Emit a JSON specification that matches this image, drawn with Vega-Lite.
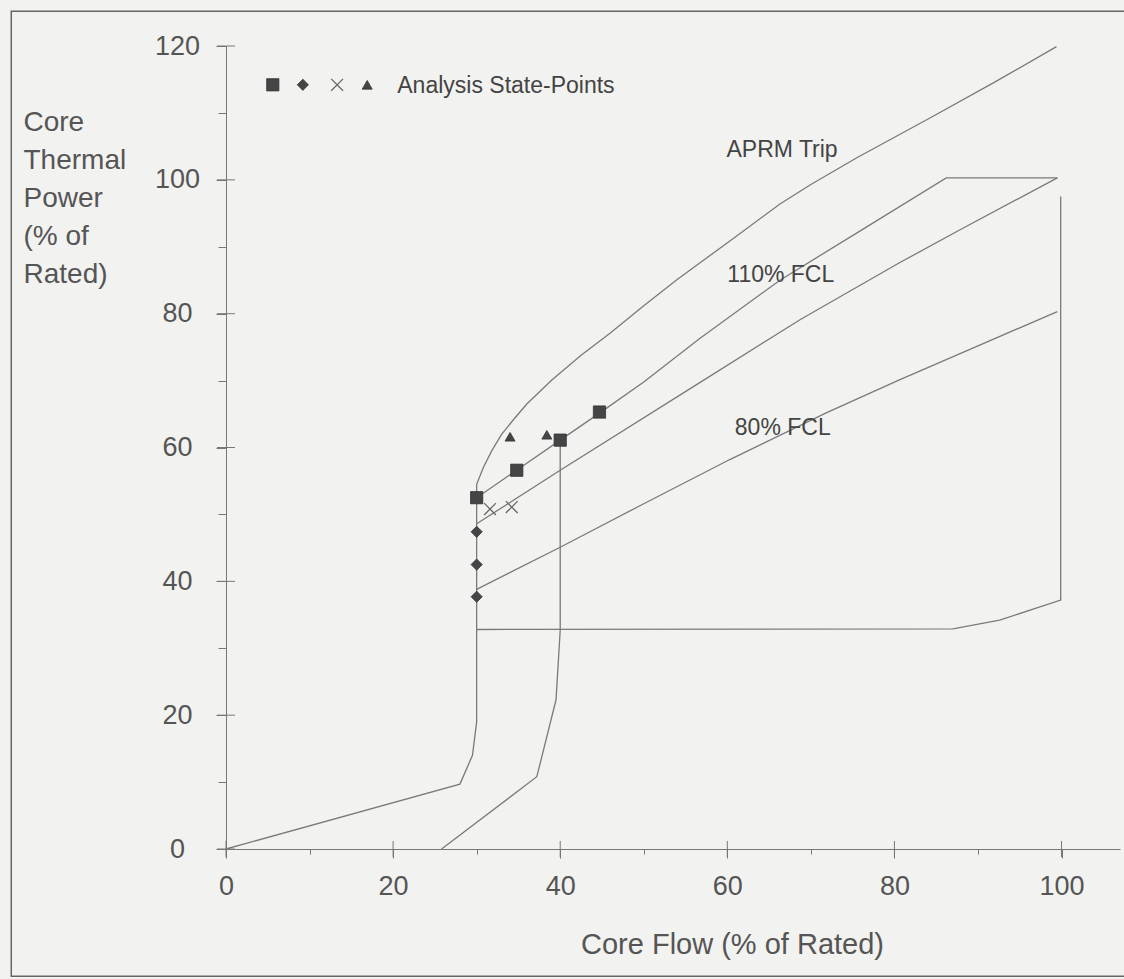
{
  "$schema": "https://vega.github.io/schema/vega-lite/v6.json",
  "width": 894,
  "height": 803,
  "autosize": "none",
  "padding": {"left": 226, "top": 46, "right": 4, "bottom": 130},
  "background": "#f2f2f0",
  "config": {"view": {"stroke": null}, "font": "Liberation Sans"},
  "datasets": {
    "frame": [{"x": -25.7, "x2": 110, "y": 125.2, "y2": -19.0}],
    "xticks": [
      {"x": 0, "y": 0}, {"x": 20, "y": 0}, {"x": 40, "y": 0}, {"x": 60, "y": 0}, {"x": 80, "y": 0}, {"x": 100, "y": 0}
    ],
    "yticks": [
      {"x": 0, "y": 0}, {"x": 0, "y": 20}, {"x": 0, "y": 40}, {"x": 0, "y": 60}, {"x": 0, "y": 80}, {"x": 0, "y": 100}, {"x": 0, "y": 120}
    ],
    "lines": [
      {"series": "APRM Trip", "o": 1, "x": 0, "y": 0},
      {"series": "APRM Trip", "o": 2, "x": 28, "y": 9.7},
      {"series": "APRM Trip", "o": 3, "x": 29.5, "y": 14},
      {"series": "APRM Trip", "o": 4, "x": 30, "y": 19},
      {"series": "APRM Trip", "o": 5, "x": 30, "y": 54.5},
      {"series": "APRM Trip", "o": 6, "x": 30.8, "y": 57},
      {"series": "APRM Trip", "o": 7, "x": 31.8, "y": 59.5},
      {"series": "APRM Trip", "o": 8, "x": 33, "y": 62},
      {"series": "APRM Trip", "o": 9, "x": 34.5, "y": 64.3},
      {"series": "APRM Trip", "o": 10, "x": 36, "y": 66.5},
      {"series": "APRM Trip", "o": 11, "x": 39, "y": 70.1},
      {"series": "APRM Trip", "o": 12, "x": 42.5, "y": 73.8},
      {"series": "APRM Trip", "o": 13, "x": 46, "y": 77.1},
      {"series": "APRM Trip", "o": 14, "x": 50, "y": 81.2},
      {"series": "APRM Trip", "o": 15, "x": 54, "y": 85.1},
      {"series": "APRM Trip", "o": 16, "x": 61, "y": 91.5},
      {"series": "APRM Trip", "o": 17, "x": 66.3, "y": 96.4},
      {"series": "APRM Trip", "o": 18, "x": 70, "y": 99.3},
      {"series": "APRM Trip", "o": 19, "x": 75.5, "y": 103.3},
      {"series": "APRM Trip", "o": 20, "x": 84.2, "y": 109.2},
      {"series": "APRM Trip", "o": 21, "x": 92, "y": 114.6},
      {"series": "APRM Trip", "o": 22, "x": 99.4, "y": 119.9},
      {"series": "Max", "o": 1, "x": 25.8, "y": 0},
      {"series": "Max", "o": 2, "x": 37.2, "y": 10.8},
      {"series": "Max", "o": 3, "x": 39.5, "y": 22.3},
      {"series": "Max", "o": 4, "x": 40, "y": 32.7},
      {"series": "Max", "o": 5, "x": 40, "y": 61.1},
      {"series": "110% FCL", "o": 1, "x": 30, "y": 52.5},
      {"series": "110% FCL", "o": 2, "x": 35, "y": 56.8},
      {"series": "110% FCL", "o": 3, "x": 40, "y": 61.1},
      {"series": "110% FCL", "o": 4, "x": 45, "y": 65.4},
      {"series": "110% FCL", "o": 5, "x": 50, "y": 69.8},
      {"series": "110% FCL", "o": 6, "x": 56.7, "y": 76.3},
      {"series": "110% FCL", "o": 7, "x": 66.3, "y": 85},
      {"series": "110% FCL", "o": 8, "x": 76.2, "y": 92.6},
      {"series": "110% FCL", "o": 9, "x": 86.2, "y": 100.3},
      {"series": "110% FCL", "o": 10, "x": 99.5, "y": 100.3},
      {"series": "100% FCL", "o": 1, "x": 30, "y": 48.6},
      {"series": "100% FCL", "o": 2, "x": 40, "y": 56.6},
      {"series": "100% FCL", "o": 3, "x": 56.7, "y": 69.7},
      {"series": "100% FCL", "o": 4, "x": 68.7, "y": 79.1},
      {"series": "100% FCL", "o": 5, "x": 80.6, "y": 87.6},
      {"series": "100% FCL", "o": 6, "x": 87.8, "y": 92.5},
      {"series": "100% FCL", "o": 7, "x": 99.5, "y": 100.3},
      {"series": "80% FCL", "o": 1, "x": 30, "y": 38.8},
      {"series": "80% FCL", "o": 2, "x": 40, "y": 45.1},
      {"series": "80% FCL", "o": 3, "x": 50, "y": 51.6},
      {"series": "80% FCL", "o": 4, "x": 60.3, "y": 58.2},
      {"series": "80% FCL", "o": 5, "x": 71.9, "y": 65.2},
      {"series": "80% FCL", "o": 6, "x": 80.6, "y": 70.1},
      {"series": "80% FCL", "o": 7, "x": 90, "y": 75.2},
      {"series": "80% FCL", "o": 8, "x": 99.5, "y": 80.3},
      {"series": "Box", "o": 1, "x": 30, "y": 32.8},
      {"series": "Box", "o": 2, "x": 87, "y": 32.9},
      {"series": "Box", "o": 3, "x": 92.6, "y": 34.2},
      {"series": "Box", "o": 4, "x": 99.9, "y": 37.2},
      {"series": "Box", "o": 5, "x": 99.9, "y": 97.5}
    ],
    "pts": [
      {"kind": "square", "x": 30, "y": 52.5},
      {"kind": "square", "x": 34.8, "y": 56.6},
      {"kind": "square", "x": 40, "y": 61.1},
      {"kind": "square", "x": 44.7, "y": 65.3},
      {"kind": "diamond", "x": 30, "y": 47.4},
      {"kind": "diamond", "x": 30, "y": 42.5},
      {"kind": "diamond", "x": 30, "y": 37.7},
      {"kind": "triangle-up", "x": 34, "y": 61.6},
      {"kind": "triangle-up", "x": 38.4, "y": 61.9},
      {"kind": "square", "x": 5.6, "y": 114.2},
      {"kind": "diamond", "x": 9.2, "y": 114.2},
      {"kind": "triangle-up", "x": 16.9, "y": 114.2}
    ],
    "xpts": [
      {"x": 31.6, "y": 50.8},
      {"x": 34.2, "y": 51.1},
      {"x": 13.3, "y": 114.2}
    ],
    "labels": [
      {"text": "APRM Trip", "x": 59.9, "y": 103.4},
      {"text": "110% FCL", "x": 60.0, "y": 84.8},
      {"text": "80% FCL", "x": 60.9, "y": 61.9},
      {"text": "Analysis State-Points", "x": 20.5, "y": 113.0}
    ]
  },
  "encoding": {
    "x": {
      "field": "x", "type": "quantitative",
      "scale": {"domain": [0, 107], "nice": false, "zero": false},
      "axis": {
        "values": [0, 10, 20, 30, 40, 50, 60, 70, 80, 90, 100],
        "labelExpr": "datum.value % 20 === 0 ? datum.label : ''",
        "labelOverlap": false,
        "labelFlush": false,
        "grid": false,
        "domainColor": "#777", "tickColor": "#777",
        "tickSize": {"condition": {"test": "datum.value % 20 === 0", "value": 9}, "value": 5},
        "labelPadding": 15,
        "labelFont": "Liberation Sans", "labelFontSize": 27, "labelColor": "#555",
        "title": "Core Flow (% of Rated)",
        "titleFont": "Liberation Sans", "titleFontSize": 29, "titleFontWeight": "normal", "titleColor": "#555",
        "titleX": 506, "titleY": 104, "titleAlign": "center", "titleBaseline": "alphabetic", "titleAnchor": null
      }
    },
    "y": {
      "field": "y", "type": "quantitative",
      "scale": {"domain": [0, 120], "nice": false, "zero": false},
      "axis": {
        "values": [0, 10, 20, 30, 40, 50, 60, 70, 80, 90, 100, 110, 120],
        "labelExpr": "datum.value % 20 === 0 ? datum.label : ''",
        "labelOverlap": false,
        "labelFlush": false,
        "grid": false,
        "domainColor": "#777", "tickColor": "#777",
        "tickSize": {"condition": {"test": "datum.value % 20 === 0", "value": 10}, "value": 8},
        "labelPadding": 39,
        "labelAlign": "center",
        "labelFont": "Liberation Sans", "labelFontSize": 27, "labelColor": "#555",
        "title": ["Core", "Thermal", "Power", "(% of", "Rated)"],
        "titleFont": "Liberation Sans", "titleFontSize": 28, "titleFontWeight": "normal", "titleColor": "#555",
        "titleAngle": 0, "titleAlign": "left", "titleBaseline": "alphabetic",
        "titleX": -203, "titleY": 84, "titleLineHeight": 38
      }
    }
  },
  "layer": [
    {
      "data": {"name": "frame"},
      "mark": {"type": "rect", "filled": false, "stroke": "#666", "strokeWidth": 1.5, "clip": false},
      "encoding": {"x2": {"field": "x2"}, "y2": {"field": "y2"}}
    },
    {
      "data": {"name": "xticks"},
      "mark": {"type": "tick", "orient": "vertical", "size": 16, "thickness": 1, "color": "#777", "opacity": 1}
    },
    {
      "data": {"name": "yticks"},
      "mark": {"type": "tick", "orient": "horizontal", "size": 18, "thickness": 1, "color": "#777", "opacity": 1}
    },
    {
      "data": {"name": "lines"},
      "mark": {"type": "line", "color": "#7a7a7a", "strokeWidth": 1.3},
      "encoding": {"detail": {"field": "series"}, "order": {"field": "o", "type": "quantitative"}}
    },
    {
      "data": {"name": "pts"},
      "mark": {"type": "point", "filled": true, "fill": "#454545", "stroke": "#333", "strokeWidth": 0.8, "opacity": 1},
      "encoding": {
        "shape": {"field": "kind", "type": "nominal", "scale": {"domain": ["square", "diamond", "triangle-up"], "range": ["square", "diamond", "triangle-up"]}, "legend": null},
        "size": {"field": "kind", "type": "nominal", "scale": {"domain": ["square", "diamond", "triangle-up"], "range": [150, 100, 110]}, "legend": null}
      }
    },
    {
      "data": {"name": "xpts"},
      "mark": {"type": "point", "shape": "M-1,-1L1,1M1,-1L-1,1", "filled": false, "stroke": "#666", "strokeWidth": 1.3, "size": 140, "opacity": 1}
    },
    {
      "data": {"name": "labels"},
      "mark": {"type": "text", "align": "left", "baseline": "alphabetic", "font": "Liberation Sans", "fontSize": 23, "color": "#444"},
      "encoding": {"text": {"field": "text"}}
    }
  ]
}
